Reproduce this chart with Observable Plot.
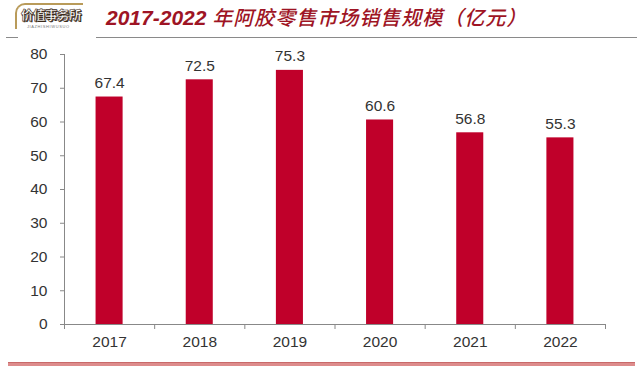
<!DOCTYPE html>
<html>
<head>
<meta charset="utf-8">
<script src="https://cdn.jsdelivr.net/npm/d3@7"></script>
<script src="https://cdn.jsdelivr.net/npm/@observablehq/plot@0.6"></script>
<style>
  html, body { margin: 0; padding: 0; background: #fff; }
  #page { position: relative; width: 640px; height: 367px; overflow: hidden; background: #fff; font-family: "Liberation Sans", Arial, sans-serif; }
  #logo { position: absolute; left: 15px; top: 3px; width: 66px; height: 24px; border-left: 2px solid #b99b5a; border-top: 2px solid #b99b5a; border-radius: 10px 0 0 0; }
  #logo .main { position: absolute; left: 4px; top: 3px; font-family: "Noto Sans CJK SC", sans-serif; font-weight: 900; font-size: 12.5px; line-height: 14px; color: #fff; -webkit-text-stroke: 0.6px #3a2a1a; text-shadow: 1px 1px 0 #3a2a1a; letter-spacing: -0.5px; white-space: nowrap; }
  #logo .sub { position: absolute; left: 10px; top: 19px; font-size: 4px; color: #777; letter-spacing: 0.6px; white-space: nowrap; }
  #title { position: absolute; left: 106px; top: 3px; font-family: "Noto Sans CJK SC", sans-serif; font-weight: 500; font-style: italic; font-size: 20px; line-height: 28px; color: #9e1424; white-space: nowrap; letter-spacing: 1px; }
  #title .num { font-family: "Liberation Sans", Arial, sans-serif; font-weight: 700; font-size: 21px; letter-spacing: 0; }
  #rule1 { position: absolute; left: 6px; top: 37px; width: 12px; height: 1px; background: #8a8a8a; }
  #rule2 { position: absolute; left: 96px; top: 37px; width: 541px; height: 1px; background: #8a8a8a; }
  #chart { position: absolute; left: 0; top: 40px; }
  #bottom { position: absolute; left: 8px; top: 362px; width: 627px; height: 3px; background: #dd8c8c; border-top: 1px solid #c96a6a; }
</style>
</head>
<body>
<div id="page">
  <div id="logo"><div class="main">价值事务所</div><div class="sub">JIAZHISHIWUSUO</div></div>
  <div id="title"><span class="num">2017-2022 </span>年阿胶零售市场销售规模（亿元）</div>
  <div id="rule1"></div>
  <div id="rule2"></div>
  <div id="chart"></div>
  <div id="bottom"></div>
</div>
<script>
const years = [2017, 2018, 2019, 2020, 2021, 2022];
const values = [67.4, 72.5, 75.3, 60.6, 56.8, 55.3];
const yTicks = [0, 10, 20, 30, 40, 50, 60, 70, 80];
const bounds = [2016.5, 2017.5, 2018.5, 2019.5, 2020.5, 2021.5, 2022.5];

const data = years.map((year, i) => ({year, value: values[i]}));

const chart = Plot.plot({
  width: 640,
  height: 320,
  marginTop: 14,
  marginBottom: 36,
  marginLeft: 64,
  marginRight: 35,
  style: { fontFamily: "'Liberation Sans', Arial, sans-serif", fontSize: "15px", color: "#333", background: "transparent" },
  x: { domain: [2016.5, 2022.5] },
  y: { domain: [0, 80] },
  marks: [
    Plot.rectY(data, { x1: d => d.year - 0.15, x2: d => d.year + 0.15, y: "value", fill: "#c0002a" }),
    Plot.text(data, { x: "year", y: "value", text: d => d.value.toFixed(1), lineAnchor: "bottom", dy: -9, fontSize: 15.5, fill: "#333" }),
    Plot.ruleY([0], { stroke: "#888" }),
    Plot.ruleX([2016.5], { y1: 0, y2: 80, stroke: "#888" }),
    Plot.axisY({ ticks: yTicks, tickSize: 4, tickPadding: 13, stroke: "#888", fill: "#333", fontSize: 15.5, label: null }),
    Plot.axisX({ ticks: bounds, tickSize: 5, tickFormat: () => "", stroke: "#888", label: null }),
    Plot.axisX({ ticks: years, tickSize: 0, tickPadding: 11, tickFormat: d => String(d), fill: "#333", fontSize: 15.5, label: null })
  ]
});
document.getElementById("chart").appendChild(chart);
</script>
</body>
</html>
